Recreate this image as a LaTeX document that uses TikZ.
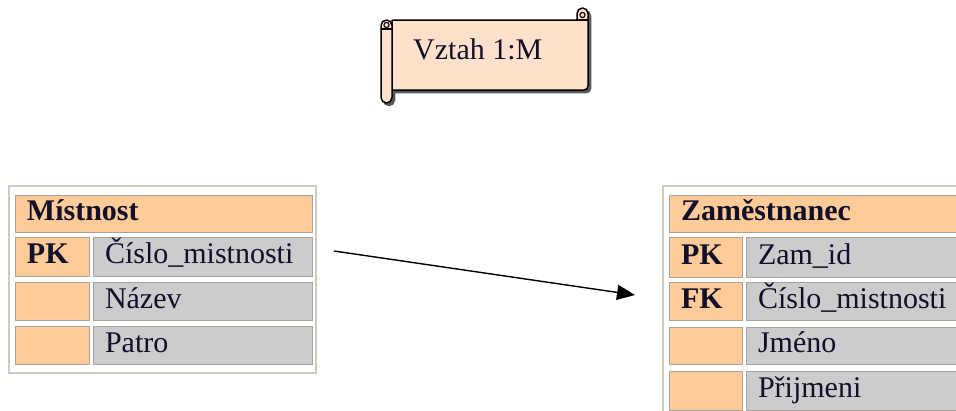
\documentclass[tikz,border=0pt]{standalone}
\usepackage{fontspec}
\setmainfont{Liberation Serif}
\usetikzlibrary{arrows.meta}
\definecolor{keyfill}{HTML}{FFCC99}
\definecolor{valfill}{HTML}{CCCCCC}
\definecolor{cellline}{HTML}{A8A49C}
\definecolor{frameline}{HTML}{CFCBC2}
\definecolor{scrollfill}{HTML}{FFE1CB}
\definecolor{inktext}{HTML}{10102A}
\begin{document}
\begin{tikzpicture}[x=1pt,y=-1pt,
  tcell/.style={anchor=north west, inner xsep=12pt, inner ysep=0pt, outer sep=0pt,
    align=left, text height=20pt, text depth=6pt, draw=cellline, line width=0.8pt,
    text=inktext, font=\fontsize{30}{35}\selectfont},
  keycell/.style={tcell, fill=keyfill, font=\fontsize{30}{35}\selectfont\bfseries},
  valcell/.style={tcell, fill=valfill},
  headcell/.style={tcell, fill=keyfill, font=\fontsize{30}{35}\selectfont\bfseries},
  tableframe/.style={anchor=north west, draw=frameline, line width=1.6pt, inner sep=0pt, outer sep=0pt},
  scrollline/.style={draw=black, line width=1.5pt, fill=scrollfill, line join=round},
  scrollshade/.style={fill=black!65, draw=black!65, line width=1.5pt, line join=round},
  relarrow/.style={-{Triangle[length=18pt,width=15pt]}, line width=1.4pt}]

\useasboundingbox (0,0) rectangle (956,410);
\clip (0,0) rectangle (956,410);
\fill[white] (0,0) rectangle (956,410);

% ---- relationship caption (horizontal scroll) ----
\begin{scope}[shift={(2.5,2.5)}]
  \path[scrollshade] (392,20) -- (577,20) -- (577,13.5) arc[start angle=180,end angle=360,radius=5.5]
    -- (588,86) arc[start angle=0,end angle=90,radius=4] -- (392,90) -- cycle;
  \path[scrollshade] (381,25.5) arc[start angle=180,end angle=360,radius=5.5]
    -- (392,97.5) arc[start angle=0,end angle=180,radius=5.5] -- cycle;
\end{scope}
\path[scrollline] (392,20) -- (577,20) -- (577,13.5) arc[start angle=180,end angle=360,radius=5.5]
  -- (588,86) arc[start angle=0,end angle=90,radius=4] -- (392,90) -- cycle;
\draw[line width=1.2pt] (577,20) -- (588,20);
\draw[line width=1.1pt] (582.5,15) circle[radius=2.6];
\path[scrollline] (381,25.5) arc[start angle=180,end angle=360,radius=5.5]
  -- (392,97.5) arc[start angle=0,end angle=180,radius=5.5] -- cycle;
\draw[line width=1.1pt] (386.5,25) circle[radius=2.6];
\draw[line width=1.1pt] (381,29) -- (392,29);
\node[anchor=base west, inner sep=0pt, text=inktext, font=\fontsize{30}{35}\selectfont]
  (reltitle) at (413,59) {Vztah 1:M};

% ---- table Místnost ----
\node[tableframe, minimum width=307pt, minimum height=187pt] (mframe) at (9,186) {};
\node[headcell, text width=273pt, minimum height=37pt] (mhead) at (15,195) {Místnost};
\node[keycell, text width=50pt, minimum height=39pt] (mkey1) at (15,237) {PK};
\node[valcell, text width=195pt, minimum height=39pt] (mval1) at (93,237) {Číslo\_mistnosti};
\node[keycell, text width=50pt, minimum height=38pt] (mkey2) at (15,282) {};
\node[valcell, text width=195pt, minimum height=38pt] (mval2) at (93,282) {Název};
\node[keycell, text width=50pt, minimum height=38pt] (mkey3) at (15,326) {};
\node[valcell, text width=195pt, minimum height=38pt] (mval3) at (93,326) {Patro};

% ---- table Zaměstnanec ----
\node[tableframe, minimum width=306pt, minimum height=240pt] (zframe) at (663,186) {};
\node[headcell, text width=272pt, minimum height=37pt] (zhead) at (669,195) {Zaměstnanec};
\node[keycell, text width=49pt, minimum height=40pt] (zkey1) at (669,237) {PK};
\node[valcell, text width=195pt, minimum height=40pt] (zval1) at (746,237) {Zam\_id};
\node[keycell, text width=49pt, minimum height=38pt] (zkey2) at (669,282) {FK};
\node[valcell, text width=195pt, minimum height=38pt] (zval2) at (746,282) {Číslo\_mistnosti};
\node[keycell, text width=49pt, minimum height=37pt] (zkey3) at (669,327) {};
\node[valcell, text width=195pt, minimum height=37pt] (zval3) at (746,327) {Jméno};
\node[keycell, text width=49pt, minimum height=39pt] (zkey4) at (669,371) {};
\node[valcell, text width=195pt, minimum height=39pt] (zval4) at (746,371) {Přijmeni};

% ---- 1:M relationship arrow ----
\coordinate (relfrom) at (334,251);
\coordinate (relto) at (635,295);
\draw[relarrow] (relfrom) -- (relto);
\end{tikzpicture}
\end{document}
